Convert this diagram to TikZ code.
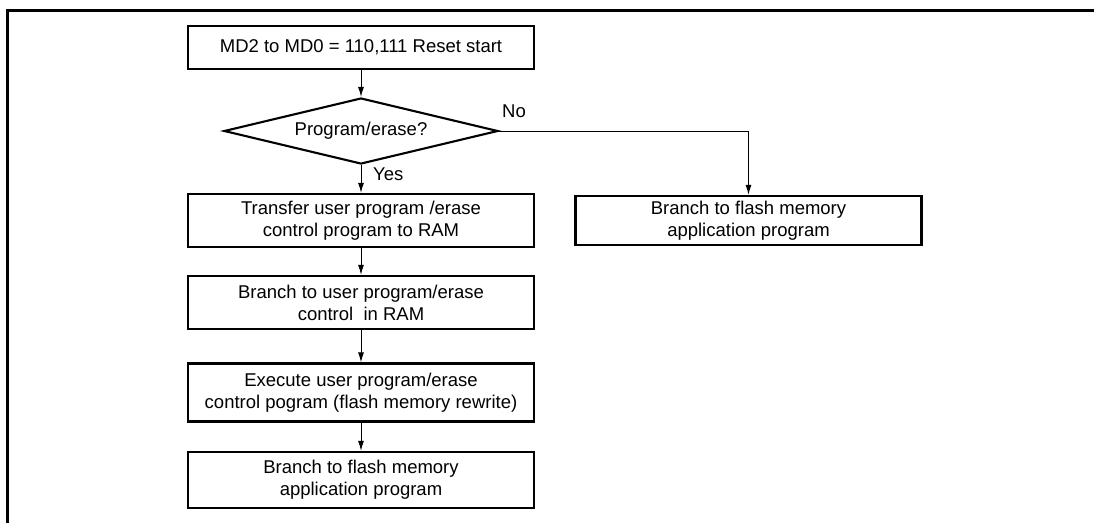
\documentclass[tikz,border=0pt]{standalone}
\usepackage{fontspec}
\setmainfont{Liberation Sans}
\usetikzlibrary{shapes.geometric,arrows.meta}
\begin{document}
\begin{tikzpicture}[x=1pt,y=-1pt,
  txt/.style={font=\fontsize{18.5}{22}\selectfont},
  box/.style={txt,draw,line width=2.3pt,minimum width=346pt,inner sep=0pt,align=center},
  dec/.style={txt,draw,diamond,aspect=4.15,line width=2.1pt,minimum width=274pt,minimum height=66pt,inner sep=0pt},
  arr/.style={line width=1pt,-{Latex[length=10pt,width=6pt]}},
  lbl/.style={txt,inner sep=0pt,anchor=west}
]
\useasboundingbox (0,0) rectangle (1095,523);
\coordinate (fr1) at (1094,10);
\coordinate (fr2) at (7,10);
\coordinate (fr3) at (7,523);
\draw[line width=3pt] (fr1) -- (fr2) -- (fr3);

\node[box,minimum height=43pt] (start) at (361,47.5) {MD2 to MD0 = 110,111 Reset start};
\node[dec] (q) at (361,131) {Program/erase?};
\node[box,minimum height=53pt] (b1) at (361,220.5) {Transfer user program /erase\\control program to RAM};
\node[box,minimum height=53pt] (b2) at (361,302.5) {Branch to user program/erase\\control\ \ in RAM};
\node[box,minimum height=58pt] (b3) at (361,392.5) {Execute user program/erase\\control pogram (flash memory rewrite)};
\node[box,minimum height=56pt] (b4) at (361,480) {Branch to flash memory\\application program};
\node[box,minimum height=49pt] (r1) at (748.5,220.5) {Branch to flash memory\\application program};

\node[lbl] (yes) at (373,174) {Yes};
\node[lbl] (no) at (502,111) {No};

\draw[arr] (start) -- (q);
\draw[arr] (q) -- (b1);
\draw[arr] (b1) -- (b2);
\draw[arr] (b2) -- (b3);
\draw[arr] (b3) -- (b4);
\draw[arr] (q.east) -| (r1.north);
\end{tikzpicture}
\end{document}
